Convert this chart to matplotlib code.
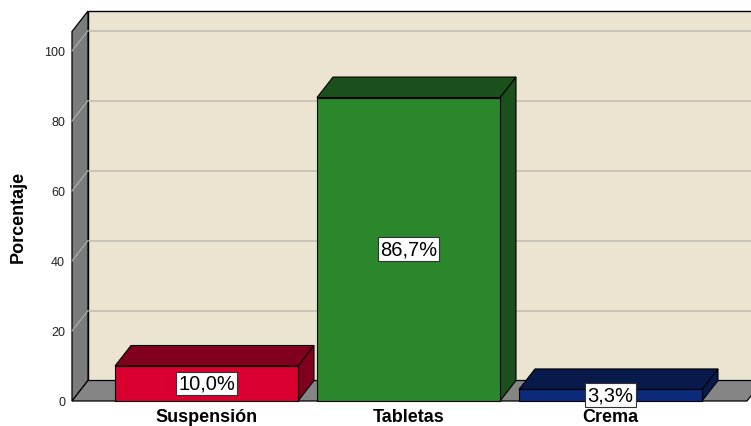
import matplotlib
matplotlib.use("Agg")
import matplotlib.pyplot as plt
from matplotlib.patches import Polygon

plt.rcParams['font.family'] = ['Liberation Sans', 'DejaVu Sans']

categories = ["Suspensión", "Tabletas", "Crema"]
values = [10.0, 86.7, 3.3]
value_labels = ["10,0%", "86,7%", "3,3%"]
yticks = [0, 20, 40, 60, 80, 100]
ylabel = "Porcentaje"

front_colors = ["#D9002F", "#2B872B", "#0C2A7A"]
dark_colors = ["#80001E", "#1B4F1B", "#081A4C"]

W, H = 751, 427
fig = plt.figure(figsize=(W / 100, H / 100), dpi=100)
# geometry (pixels)
ax_left, ax_bottom = 72, 402
ax = fig.add_axes([ax_left / W, (H - ax_bottom) / H, (W - ax_left) / W, ax_bottom / H])
px_per_cat = 202.0
px_per_pct = 3.5
x_first = 206.5
xmin = (ax_left - x_first) / px_per_cat
xmax = (W - x_first) / px_per_cat
ax.set_xlim(xmin, xmax)
ax.set_ylim(0, ax_bottom / px_per_pct)

DX = 16 / px_per_cat
DY = 20.5 / px_per_pct
ytop = (ax_bottom - 12) / px_per_pct
xfloor_end = (747 - x_first) / px_per_cat
xwall_end = xmax + 1

wall_col = "#EAE4D0"
grid_col = "#C9C5B9"
gray = "#7C7C7C"

# back wall
ax.add_patch(Polygon([(xmin + DX, DY), (xwall_end, DY), (xwall_end, ytop), (xmin + DX, ytop)],
                     closed=True, facecolor=wall_col, edgecolor="black", lw=1.0, clip_on=False, zorder=1))
# side wall
ax.add_patch(Polygon([(xmin, 0), (xmin + DX, DY), (xmin + DX, ytop), (xmin, ytop - DY)],
                     closed=True, facecolor=gray, edgecolor="black", lw=0.9, clip_on=False, zorder=2))
# floor
ax.add_patch(Polygon([(xmin, 0), (xfloor_end, 0), (xfloor_end + DX, DY), (xmin + DX, DY)],
                     closed=True, facecolor="#858585", edgecolor="black", lw=0.9, clip_on=False, zorder=2))

# gridlines
for t in yticks[1:]:
    ax.plot([xmin + DX, xwall_end], [t + DY, t + DY], color=grid_col, lw=1.4, zorder=1.5, clip_on=False)
    ax.plot([xmin, xmin + DX], [t, t + DY], color="#B0B0B0", lw=0.8, zorder=2.5, clip_on=False)

# bars
hw = 183 / 2 / px_per_cat
for i, (v, fc, dc, lab) in enumerate(zip(values, front_colors, dark_colors, value_labels)):
    x0, x1 = i - hw, i + hw
    z = 5 + i
    ax.add_patch(Polygon([(x1, 0), (x1 + DX, DY), (x1 + DX, v + DY), (x1, v)], closed=True,
                         facecolor=dc, edgecolor="black", lw=0.8, zorder=z, clip_on=False))
    ax.add_patch(Polygon([(x0, v), (x1, v), (x1 + DX, v + DY), (x0 + DX, v + DY)], closed=True,
                         facecolor=dc, edgecolor="black", lw=0.8, zorder=z, clip_on=False))
    ax.add_patch(Polygon([(x0, 0), (x1, 0), (x1, v), (x0, v)], closed=True,
                         facecolor=fc, edgecolor="black", lw=0.8, zorder=z, clip_on=False))
    ax.text(i, v / 2, lab, ha="center", va="center", fontsize=14.5, color="black", zorder=20,
            bbox=dict(boxstyle="square,pad=0.12", facecolor="white", edgecolor="#333333", lw=0.8))

ax.set_xticks(range(len(categories)))
ax.set_xticklabels(categories, fontsize=13, fontweight="bold")
ax.set_yticks(yticks)
ax.set_yticklabels([str(t) for t in yticks], fontsize=9, color="#222222")
ax.tick_params(axis="both", length=0)
ax.tick_params(axis="y", pad=5)
ax.tick_params(axis="x", pad=5)
for s in ax.spines.values():
    s.set_visible(False)
ax.patch.set_visible(False)

fig.text(18 / W, 1 - 217 / H, ylabel, rotation=90, ha="center", va="center",
         fontsize=13, fontweight="bold")

fig.savefig("out.png", dpi=100)
